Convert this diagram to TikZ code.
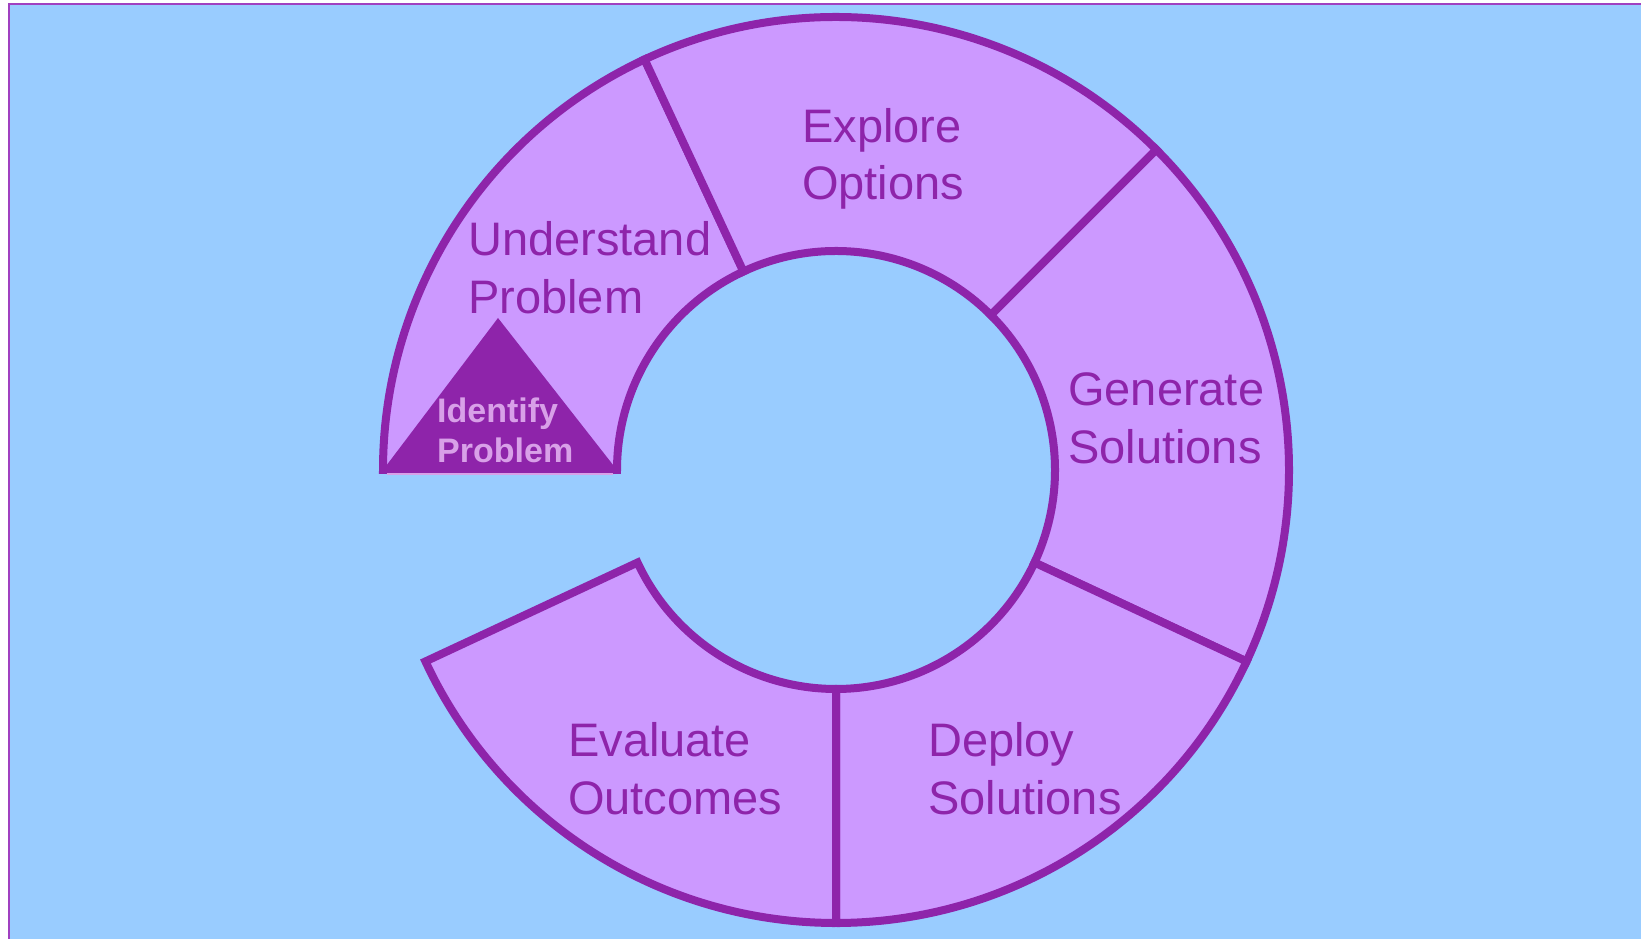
\documentclass[tikz,border=0pt]{standalone}
\usepackage{fontspec}
\setmainfont{Liberation Sans}
\usetikzlibrary{calc}
\definecolor{bgblue}{HTML}{99CCFF}
\definecolor{segfill}{HTML}{CC99FF}
\definecolor{segline}{HTML}{8E24AA}
\definecolor{idtext}{HTML}{D8A0E8}
\definecolor{framecol}{HTML}{A040C0}
\newcommand\ringseg[2]{\draw[seg] ($(c)+(#1:\Rout pt)$) arc[start angle=#1, end angle=#2, radius=\Rout pt] -- ($(c)+(#2:\Rin pt)$) arc[start angle=#2, end angle=#1, radius=\Rin pt] -- cycle;}
\begin{document}
\begin{tikzpicture}[x=1pt,y=1pt,
  seg/.style={fill=segfill, draw=segline, line width=8pt, line join=miter},
  lbl/.style={anchor=west, align=left, text=segline, inner sep=0pt, font=\fontsize{47}{57.5}\selectfont},
  idlbl/.style={anchor=west, align=left, text=idtext, inner sep=0pt, font=\bfseries\fontsize{34}{40}\selectfont}]
\useasboundingbox (0,0) rectangle (1641,939);
\fill[white] (0,0) rectangle (1641,939);
\fill[bgblue] (9,-20) rectangle (1660,935);
\draw[framecol, line width=2pt] (9,-20) -- (9,935) -- (1660,935);
\coordinate (c) at (836,469);
\def\Rout{453}\def\Rin{219}
\ringseg{180}{115}
\ringseg{115}{45}
\ringseg{45}{-25}
\ringseg{-25}{-90}
\ringseg{-90}{-155}
\coordinate (tl) at ($(c)+(-\Rout pt,0)$);
\coordinate (tr) at ($(c)+(-\Rin pt,0)$);
\coordinate (ta) at (498,621);
\fill[segline] (tl) -- (ta) -- (tr) -- cycle;
\draw[idtext, line width=2pt] ($(tl)+(4,-4.5)$) -- ($(tr)+(-4,-4.5)$);
\node[lbl] (understand) at (468,671.5) {Understand\\Problem};
\node[lbl] (explore) at (802,780) {Explore\\Options};
\node[lbl] (generate) at (1068,520.5) {Generate\\Solutions};
\node[lbl] (deploy) at (928,170.5) {Deploy\\Solutions};
\node[lbl] (evaluate) at (568,170.5) {Evaluate\\Outcomes};
\node[idlbl] (identify) at (437,509) {Identify\\Problem};
\end{tikzpicture}
\end{document}
